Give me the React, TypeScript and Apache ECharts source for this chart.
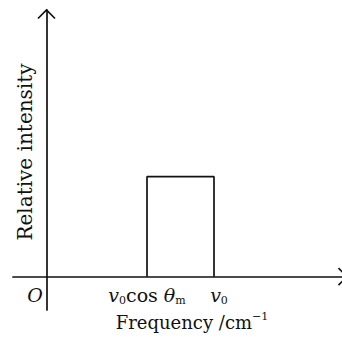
import React, { useEffect, useRef } from "react";
import * as echarts from "echarts";

const rectX = [3, 3, 5, 5];
const rectY = [0, 3, 3, 0];
const tickValues = [0, 3, 5];
const tickLabels = ["{o|O}", "{vi|v}{sub|0}{n|cos }{vi|θ}{sub|m}", "{vp|v}{sub|0}"];
const xName = "{t|Frequency /cm}{sup|−1}";
const yName = "Relative intensity";
const xRange = [-1, 9];
const yRange = [-1, 8];

const FONT = "DejaVu Serif";

export default function App() {
  const ref = useRef<HTMLDivElement>(null);
  useEffect(() => {
    if (!ref.current) return;
    const chart = echarts.init(ref.current, undefined, { renderer: "svg" });
    const lineStyle = { color: "#111", width: 1.7 };
    const option: any = {
      animation: false,
      backgroundColor: "#fff",
      grid: { left: 13, top: 10, width: 335, height: 300, outerBoundsMode: "none", containLabel: false },
      xAxis: {
        type: "value",
        min: xRange[0],
        max: xRange[1],
        splitLine: { show: false },
        axisTick: { show: false },
        axisLine: { show: true, onZero: true, lineStyle },
        axisLabel: {
          show: true,
          customValues: tickValues,
          margin: -26,
          formatter: (v: number) => {
            const i = tickValues.indexOf(v);
            return i >= 0 ? tickLabels[i] : "";
          },
          rich: {
            o: { fontFamily: FONT, fontStyle: "italic", fontSize: 19, color: "#111", lineHeight: 22, padding: [0, 23, 0, 0] },
            vi: { fontFamily: FONT, fontStyle: "italic", fontSize: 19, color: "#111", lineHeight: 22 },
            vp: { fontFamily: FONT, fontStyle: "italic", fontSize: 19, color: "#111", lineHeight: 22, padding: [0, 0, 0, 10] },
            n: { fontFamily: FONT, fontSize: 19, color: "#111", lineHeight: 22 },
            sub: { fontFamily: FONT, fontSize: 11, color: "#111", lineHeight: 11, verticalAlign: "bottom" },
          },
        },
        name: xName,
        nameLocation: "middle",
        nameGap: 1,
        nameTextStyle: {
          padding: [0, 0, 0, 23],
          rich: {
            t: { fontFamily: FONT, fontSize: 18, color: "#111", lineHeight: 22 },
            sup: { fontFamily: FONT, fontSize: 11, color: "#111", lineHeight: 11, verticalAlign: "top" },
          },
        },
      },
      yAxis: {
        type: "value",
        min: yRange[0],
        max: yRange[1],
        splitLine: { show: false },
        axisTick: { show: false },
        axisLabel: { show: false },
        axisLine: { show: true, onZero: true, lineStyle },
        name: yName,
        nameLocation: "middle",
        nameGap: -22,
        nameTextStyle: { fontFamily: FONT, fontSize: 20, color: "#111", padding: [0, 0, 0, 16] },
      },
      series: [
        {
          type: "line",
          data: rectX.map((x, i) => [x, rectY[i]]),
          symbol: "none",
          lineStyle: { color: "#111", width: 1.7 },
        },
      ],
    };
    chart.setOption(option);
    const top = chart.convertToPixel({ gridIndex: 0 }, [0, yRange[1]]) as number[];
    const right = chart.convertToPixel({ gridIndex: 0 }, [xRange[1], 0]) as number[];
    const tipX = right[0] - 1;
    chart.setOption({
      graphic: [
        {
          type: "polyline",
          shape: { points: [[top[0] - 8.5, top[1] + 8.5], [top[0], top[1]], [top[0] + 8.5, top[1] + 8.5]] },
          style: { stroke: "#111", lineWidth: 1.7, fill: "none" },
        },
        {
          type: "polyline",
          shape: { points: [[tipX - 8.5, right[1] - 8.5], [tipX, right[1]], [tipX - 8.5, right[1] + 8.5]] },
          style: { stroke: "#111", lineWidth: 1.7, fill: "none" },
        },
      ],
    });
    return () => chart.dispose();
  }, []);
  return (
    <div
      ref={ref}
      style={{ position: "absolute", left: 0, top: 0, width: 342, height: 337, background: "#fff" }}
    />
  );
}
